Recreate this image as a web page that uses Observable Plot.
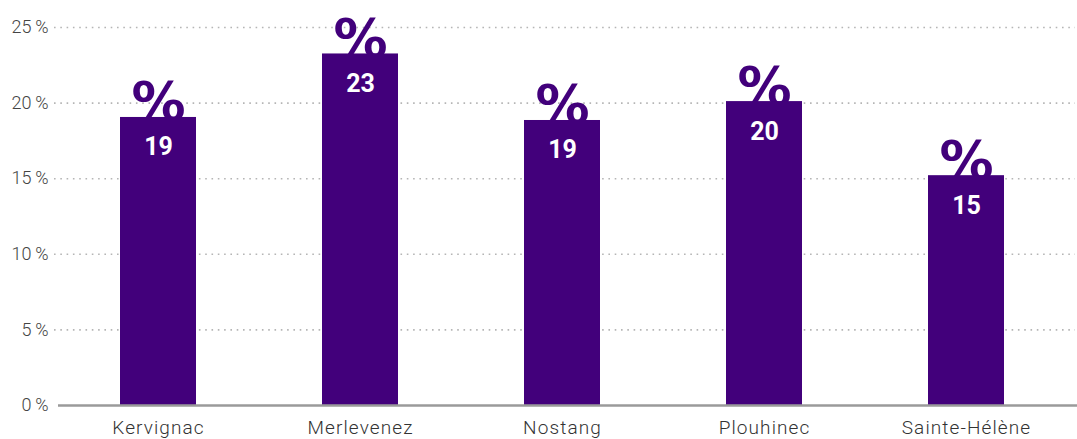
<!DOCTYPE html>
<html><head><meta charset="utf-8">
<script src="https://cdn.jsdelivr.net/npm/d3@7"></script>
<script src="https://cdn.jsdelivr.net/npm/@observablehq/plot@0.6"></script>
<style>
html,body{margin:0;padding:0;background:#fff;}
svg{display:block;}
g[aria-label="x-axis tick label"] text{letter-spacing:1.1px;}
</style>
</head><body>
<div id="chart"></div>
<script>
const communes = ["Kervignac", "Merlevenez", "Nostang", "Plouhinec", "Sainte-Hélène"];
const values = [19.05, 23.25, 18.85, 20.1, 15.2];
const labels = ["19", "23", "19", "20", "15"];
const yTicks = [0, 5, 10, 15, 20, 25];
const gridTicks = [5, 10, 15, 20, 25];

const data = communes.map((c, i) => ({commune: c, value: values[i], label: labels[i]}));
const purple = "#42007b";

const chart = Plot.plot({
  width: 1077,
  height: 439,
  marginTop: 27,
  marginBottom: 34,
  marginLeft: 57,
  marginRight: 10,
  style: {fontFamily: "Roboto, sans-serif", background: "#fff"},
  x: {domain: communes, paddingInner: 0.624, paddingOuter: 0.312, label: null},
  y: {domain: [0, 25], label: null},
  marks: [
    Plot.ruleY(gridTicks, {stroke: "#b5b5b5", strokeWidth: 1.6, strokeDasharray: "1.6,4.7", insetLeft: -3, insetRight: -8}),
    Plot.text(data, {x: "commune", y: "value", text: () => "%", fill: purple, fontSize: 54, fontWeight: "bold", fontFamily: "'DejaVu Sans', sans-serif", lineAnchor: "bottom", dy: 3}),
    Plot.barY(data, {x: "commune", y: "value", fill: purple}),
    Plot.text(data, {x: "commune", y: "value", text: "label", fill: "#fff", fontSize: 25, fontWeight: 700, fontFamily: "Roboto, sans-serif", dy: 30}),
    Plot.ruleY([0], {stroke: "#9a9a9a", strokeWidth: 2.5, insetLeft: 1, insetRight: -10}),
    Plot.axisY({ticks: yTicks, tickSize: 0, tickPadding: 9, tickFormat: d => d + "\u2009%", fontSize: 18, fill: "#444", fontWeight: 300, fontFamily: "Roboto, sans-serif"}),
    Plot.axisX({tickSize: 0, tickPadding: 15, fontSize: 19, fill: "#333", fontWeight: 300, fontFamily: "Roboto, sans-serif", label: null})
  ]
});
document.getElementById("chart").appendChild(chart);
</script>
</body></html>
